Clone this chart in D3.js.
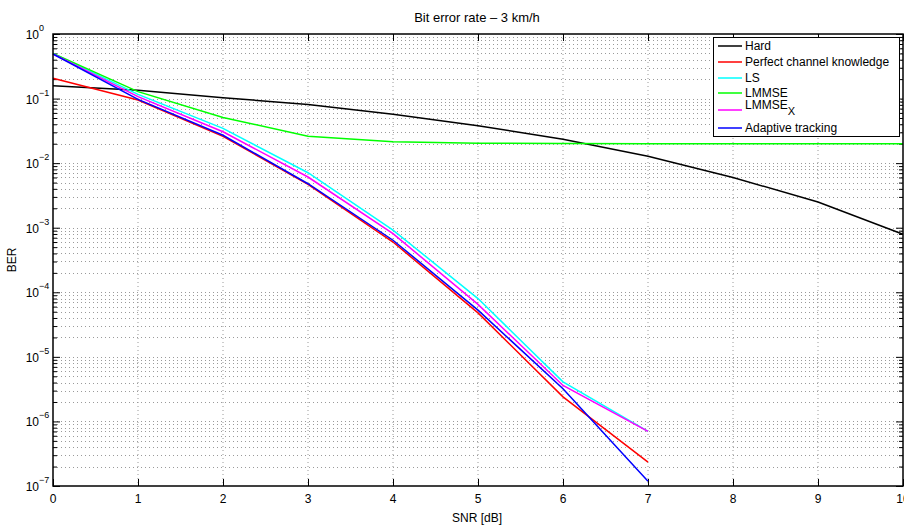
<!DOCTYPE html>
<html>
<head>
<meta charset="utf-8">
<script src="https://cdn.jsdelivr.net/npm/d3@7"></script>
<style>
html,body{margin:0;padding:0;background:#fff;}
svg{display:block;font-family:"Liberation Sans",Arial,sans-serif;}
</style>
</head>
<body>
<svg id="chart" width="904" height="527"></svg>
<script>
const snr = [0,1,2,3,4,5,6,7,8,9,10];
const hard = [0.158,0.134,0.103,0.081,0.057,0.038,0.0235,0.0128,0.006,0.0025,0.00079];
const perfect = [0.206,0.095,0.026,0.0047,0.0006,0.000048,0.0000024,0.000000234];
const ls = [0.50,0.116,0.0345,0.0071,0.00092,0.00008,0.0000041,0.0000007];
const lmmse = [0.50,0.128,0.051,0.026,0.0214,0.0204,0.0201,0.0199,0.0199,0.0199,0.0199];
const lmmseX = [0.49,0.107,0.0306,0.0061,0.00081,0.000065,0.0000036,0.0000007];
const adaptive = [0.49,0.097,0.027,0.0048,0.00064,0.000053,0.0000032,0.000000118];
const seriesNames = ["Hard","Perfect channel knowledge","LS","LMMSE","LMMSE","Adaptive tracking"];
const seriesColors = ["#000000","#ff0000","#00ffff","#00ff00","#ff00ff","#0000ff"];
const xTicks = [0,1,2,3,4,5,6,7,8,9,10];
const yExponents = [0,-1,-2,-3,-4,-5,-6,-7];

const series = [hard, perfect, ls, lmmse, lmmseX, adaptive];

const svg = d3.select("#chart");
const L = 53, R = 903, T = 34, B = 486;
const x = d3.scaleLinear().domain([0,10]).range([L,R]);
const y = d3.scaleLog().domain([1e-7,1]).range([B,T]);

// grid
const grid = svg.append("g");
xTicks.forEach(t => {
  if (t===0 || t===10) return;
  grid.append("line").attr("x1",x(t)).attr("x2",x(t)).attr("y1",T).attr("y2",B)
    .attr("stroke","#9a9a9a").attr("stroke-width",1).attr("stroke-dasharray","1,3");
});
const minorVals = [];
for (let e=-7; e<0; e++) for (let m=1; m<10; m++) minorVals.push(m*Math.pow(10,e));
minorVals.forEach(v => {
  if (Math.abs(Math.log10(v)+7) < 1e-9) return;
  const yy = Math.round(y(v))+0.5;
  grid.append("line").attr("x1",L).attr("x2",R).attr("y1",yy).attr("y2",yy)
    .attr("stroke","#9a9a9a").attr("stroke-width",1).attr("stroke-dasharray","1,3");
});

// axes ticks (inside) using d3 axes
const xAxisB = d3.axisBottom(x).tickValues(xTicks).tickSize(-7).tickFormat("");
const xAxisT = d3.axisTop(x).tickValues(xTicks).tickSize(-7).tickFormat("");
svg.append("g").attr("transform",`translate(0,${B})`).call(xAxisB).call(g=>g.select(".domain").remove());
svg.append("g").attr("transform",`translate(0,${T})`).call(xAxisT).call(g=>g.select(".domain").remove());
const yMinor = minorVals.filter(v => Math.abs(Math.log10(v) - Math.round(Math.log10(v))) > 1e-9);
const yMajorVals = yExponents.map(e => Math.pow(10,e));
[[d3.axisLeft, L],[d3.axisRight, R]].forEach(([ax,pos]) => {
  svg.append("g").attr("transform",`translate(${pos},0)`)
    .call(ax(y).tickValues(yMajorVals).tickSize(-7).tickFormat(""))
    .call(g=>g.select(".domain").remove());
  svg.append("g").attr("transform",`translate(${pos},0)`)
    .call(ax(y).tickValues(yMinor).tickSize(-4).tickFormat(""))
    .call(g=>g.select(".domain").remove());
});
svg.selectAll(".tick line").attr("stroke","#000").attr("stroke-width",1);

// x tick labels
xTicks.forEach(t => {
  svg.append("text").attr("x",x(t)).attr("y",B+17).attr("text-anchor","middle")
    .attr("font-size",12).attr("fill","#000").text(t);
});
// y tick labels
yExponents.forEach(e => {
  const yy = y(Math.pow(10,e));
  const txt = svg.append("text").attr("x",39).attr("y",yy+5).attr("text-anchor","end")
    .attr("font-size",12).attr("fill","#000").text("10");
  svg.append("text").attr("x",39).attr("y",yy-3).attr("text-anchor","start")
    .attr("font-size",9).attr("fill","#000").text(e===0?"0":"\u2212"+(-e));
});

// lines
const line = d3.line().x((d,i)=>x(snr[i])).y(d=>y(d));
series.forEach((s,i) => {
  svg.append("path").datum(s).attr("d",line).attr("fill","none")
    .attr("stroke",seriesColors[i]).attr("stroke-width",1.5);
});

// box
svg.append("rect").attr("x",L).attr("y",T).attr("width",R-L).attr("height",B-T)
  .attr("fill","none").attr("stroke","#000").attr("stroke-width",1.5);

// title and labels
svg.append("text").attr("x",477).attr("y",22).attr("text-anchor","middle")
  .attr("font-size",13).attr("fill","#000").text("Bit error rate \u2013 3 km/h");
svg.append("text").attr("x",477).attr("y",522).attr("text-anchor","middle")
  .attr("font-size",12).attr("fill","#000").text("SNR [dB]");
svg.append("text").attr("transform","translate(16,260) rotate(-90)").attr("text-anchor","middle")
  .attr("font-size",12).attr("fill","#000").text("BER");

// legend
const lg = svg.append("g");
lg.append("rect").attr("x",713.5).attr("y",37.5).attr("width",186).attr("height",99)
  .attr("fill","#fff").attr("stroke","#000").attr("stroke-width",1);
const rowY = [46,62,78,93,110,128];
seriesNames.forEach((n,i) => {
  lg.append("line").attr("x1",718).attr("x2",742).attr("y1",rowY[i]).attr("y2",rowY[i])
    .attr("stroke",seriesColors[i]).attr("stroke-width",1.5);
  if (i===4) {
    const t = lg.append("text").attr("x",745).attr("y",rowY[i]-1).attr("font-size",12).attr("fill","#000");
    t.append("tspan").text(n);
    t.append("tspan").attr("font-size",11).attr("dy",6).text("X");
  } else {
    lg.append("text").attr("x",745).attr("y",rowY[i]+4).attr("font-size",12).attr("fill","#000").text(n);
  }
});
</script>
</body>
</html>
